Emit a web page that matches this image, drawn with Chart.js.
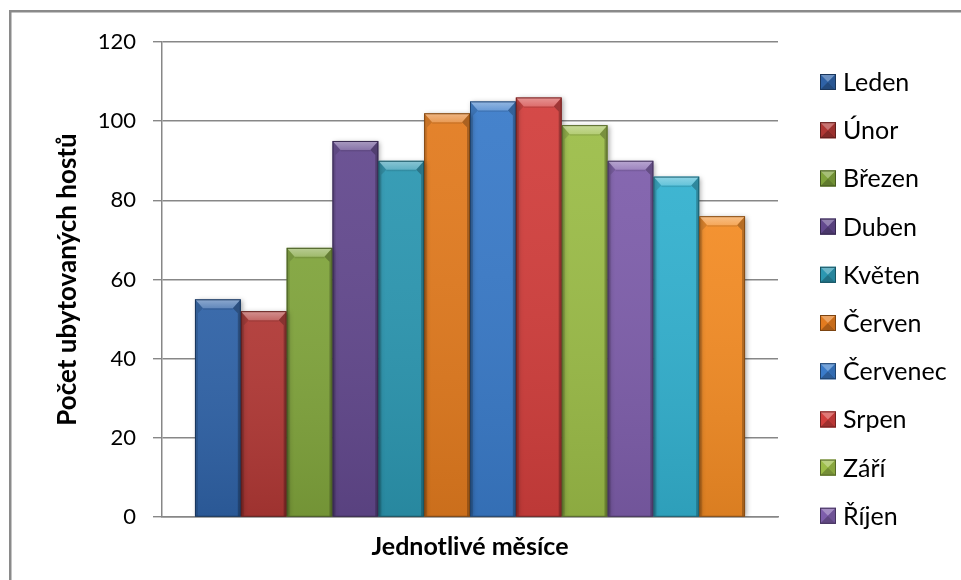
<!DOCTYPE html>
<html>
<head>
<meta charset="utf-8">
<script src="https://cdn.jsdelivr.net/npm/chart.js@4.4.1/dist/chart.umd.min.js"></script>
<style>
  html, body { margin: 0; padding: 0; background: #ffffff; }
  #wrap { width: 961px; height: 580px; }
</style>
</head>
<body>
<div id="wrap"><canvas id="chart" width="961" height="580"></canvas></div>
<script>
// Monthly guest counts
const months = ['Leden', 'Únor', 'Březen', 'Duben', 'Květen', 'Červen',
                'Červenec', 'Srpen', 'Září', 'Říjen', 'Listopad', 'Prosinec'];
const guests = [55, 52, 68, 95, 90, 102, 105, 106, 99, 90, 86, 76];
const barColors = ['#2F62A6', '#B03835', '#80A43C', '#63498E', '#2C97B1', '#E27B1F',
                   '#3A7BC9', '#D23F3D', '#9CBD48', '#7E5EAB', '#33B1CF', '#F38C25'];
const yTickMin = 0, yTickMax = 120, yTickStep = 20;
const legendItemsShown = 10;   // the legend box only has room for the first ten months

const GRID = '#878787';
const FONT = 'Lato, "Open Sans", sans-serif';

function shade(hex, f) {
  const n = parseInt(hex.slice(1), 16);
  let r = (n >> 16) & 255, g = (n >> 8) & 255, b = n & 255;
  if (f < 0) { r *= 1 + f; g *= 1 + f; b *= 1 + f; }
  else { r += (255 - r) * f; g += (255 - g) * f; b += (255 - b) * f; }
  return `rgb(${Math.round(r)},${Math.round(g)},${Math.round(b)})`;
}

function poly(ctx, pts, fill) {
  ctx.beginPath();
  ctx.moveTo(pts[0][0], pts[0][1]);
  for (let i = 1; i < pts.length; i++) ctx.lineTo(pts[i][0], pts[i][1]);
  ctx.closePath();
  ctx.fillStyle = fill;
  ctx.fill();
}

// White page with the grey outline frame
const framePlugin = {
  id: 'frame',
  beforeDraw(chart) {
    const ctx = chart.ctx;
    ctx.save();
    ctx.fillStyle = '#ffffff';
    ctx.fillRect(0, 0, chart.width, chart.height);
    ctx.strokeStyle = '#8a8a8a';
    ctx.lineWidth = 2.5;
    ctx.strokeRect(10.25, 11.25, chart.width + 20, chart.height + 20);
    ctx.restore();
  }
};

// Soft drop shadow under the columns
const shadowPlugin = {
  id: 'barShadow',
  beforeDatasetsDraw(chart) {
    const ctx = chart.ctx;
    ctx.save();
    ctx.shadowColor = 'rgba(0,0,0,0.35)';
    ctx.shadowBlur = 5;
    ctx.shadowOffsetX = 2;
    ctx.shadowOffsetY = 1;
  },
  afterDatasetsDraw(chart) {
    chart.ctx.restore();
  }
};

// Bevelled faces on each column
const bevelPlugin = {
  id: 'bevel',
  afterDatasetsDraw(chart) {
    const ctx = chart.ctx;
    ctx.save();
    chart.data.datasets.forEach((ds, i) => {
      const meta = chart.getDatasetMeta(i);
      meta.data.forEach(bar => {
        const p = bar.getProps(['x', 'y', 'base', 'width'], true);
        const l = p.x - p.width / 2, r = p.x + p.width / 2;
        const t = Math.min(p.y, p.base), b = Math.max(p.y, p.base);
        const d = 9, s = 3, k = 8;
        // body gradient
        const g = ctx.createLinearGradient(0, t, 0, b);
        g.addColorStop(0, 'rgba(255,255,255,0.06)');
        g.addColorStop(1, 'rgba(0,0,0,0.10)');
        ctx.fillStyle = g;
        ctx.fillRect(l, t, r - l, b - t);
        // top bevel
        const tg = ctx.createLinearGradient(0, t, 0, t + d);
        tg.addColorStop(0, 'rgba(255,255,255,0.42)');
        tg.addColorStop(1, 'rgba(255,255,255,0.20)');
        poly(ctx, [[l, t], [r, t], [r - k, t + d], [l + k, t + d]], tg);
        // thin shade just under the top bevel
        poly(ctx, [[l + k, t + d], [r - k, t + d], [r - k, t + d + 1.5], [l + k, t + d + 1.5]], 'rgba(0,0,0,0.10)');
        // side bevels
        poly(ctx, [[l, t], [l + k, t + d], [l + s, t + d + 5], [l + s, b], [l, b]], 'rgba(0,0,0,0.12)');
        poly(ctx, [[r, t], [r - k, t + d], [r - s, t + d + 5], [r - s, b], [r, b]], 'rgba(0,0,0,0.25)');
        // outline
        ctx.strokeStyle = shade(ds.backgroundColor, -0.45);
        ctx.lineWidth = 1;
        ctx.strokeRect(l + 0.5, t + 0.5, r - l - 1, b - t - 0.5);
      });
    });
    ctx.restore();
  }
};

// Legend on the right with small pyramid swatches
const legendPlugin = {
  id: 'sideLegend',
  afterDraw(chart) {
    const ctx = chart.ctx;
    const area = chart.chartArea;
    const x0 = area.right + 42, y0 = area.top + 40, step = 48.2, sz = 16;
    ctx.save();
    ctx.font = '25px ' + FONT;
    ctx.textBaseline = 'middle';
    ctx.textAlign = 'left';
    chart.data.datasets.slice(0, legendItemsShown).forEach((ds, i) => {
      const cy = y0 + i * step;
      const c = ds.backgroundColor;
      const l = x0, t = cy - sz / 2, r = x0 + sz, b = cy + sz / 2;
      const mx = l + sz / 2, my = t + sz / 2;
      poly(ctx, [[l, t], [r, t], [r, b], [l, b]], c);
      poly(ctx, [[l, t], [r, t], [mx, my]], shade(c, 0.3));
      poly(ctx, [[l, b], [r, b], [mx, my]], shade(c, -0.25));
      poly(ctx, [[r, t], [r, b], [mx, my]], shade(c, -0.12));
      ctx.strokeStyle = shade(c, -0.45);
      ctx.lineWidth = 1;
      ctx.strokeRect(l + 0.5, t + 0.5, sz - 1, sz - 1);
      ctx.fillStyle = '#000000';
      ctx.fillText(ds.label, x0 + sz + 7, cy + 1);
    });
    ctx.restore();
  }
};

const datasets = months.map((m, i) => ({
  label: m,
  data: [guests[i]],
  backgroundColor: barColors[i],
  borderWidth: 0,
  categoryPercentage: 0.893,
  barPercentage: 1.0
}));

new Chart(document.getElementById('chart'), {
  type: 'bar',
  data: { labels: [''], datasets },
  options: {
    responsive: false,
    animation: false,
    devicePixelRatio: 1,
    layout: { padding: { left: 10, top: 42, right: 183, bottom: 0 } },
    plugins: {
      legend: { display: false },
      tooltip: { enabled: false }
    },
    scales: {
      x: {
        grid: { display: false },
        border: { display: true, color: GRID, width: 1.5 },
        ticks: { display: false },
        title: {
          display: true,
          text: 'Jednotlivé měsíce',
          color: '#000000',
          font: { family: FONT, size: 25, weight: 'bold' },
          padding: { top: 0, bottom: 18 }
        },
        afterFit(scale) { scale.height = 63; }
      },
      y: {
        min: yTickMin,
        max: yTickMax,
        ticks: {
          stepSize: yTickStep,
          color: '#000000',
          padding: 17,
          font: { family: FONT, size: 22 }
        },
        grid: { color: GRID, lineWidth: 1.4, tickLength: 9, drawTicks: true },
        border: { display: true, color: GRID, width: 1.5 },
        title: {
          display: true,
          text: 'Počet ubytovaných hostů',
          color: '#000000',
          font: { family: FONT, size: 26, weight: 'bold' },
          padding: { top: 42, bottom: 0 }
        },
        afterFit(scale) { scale.width = 152; }
      }
    }
  },
  plugins: [framePlugin, shadowPlugin, bevelPlugin, legendPlugin]
});
</script>
</body>
</html>
